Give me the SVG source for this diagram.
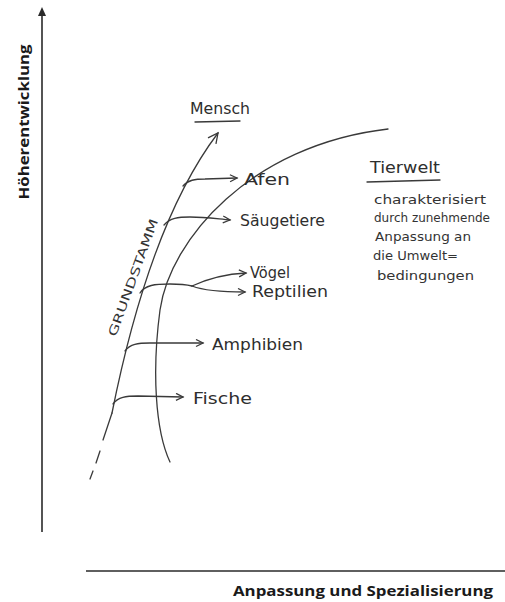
<svg xmlns="http://www.w3.org/2000/svg" width="505" height="602" viewBox="0 0 505 602">
<style>
.axis{stroke:#2a2a2a;stroke-width:1.6;fill:none}
.ax{font-family:"Open Sans","Liberation Sans",sans-serif;font-weight:bold;font-size:14px;fill:#1a1a1a}
.pen{stroke:#3a3a3a;stroke-width:1.3;fill:none;stroke-linecap:round}
.hw{font-family:"DejaVu Sans","Liberation Sans",sans-serif;font-size:15px;fill:#2e2e2e}
.sm{font-family:"DejaVu Sans","Liberation Sans",sans-serif;font-size:12px;fill:#333}
</style>
<defs>
<marker id="open" markerWidth="10" markerHeight="10" refX="8" refY="4" orient="auto" markerUnits="userSpaceOnUse">
<path d="M1,0.5 L8,4 L1,7.5" fill="none" stroke="#3a3a3a" stroke-width="1.3"/>
</marker>
<marker id="big" markerWidth="14" markerHeight="14" refX="11" refY="6" orient="auto" markerUnits="userSpaceOnUse">
<path d="M1,1 L11,6 L1,11" fill="none" stroke="#3a3a3a" stroke-width="1.3"/>
</marker>
</defs>
<g id="axes">
<line class="axis" x1="42" y1="532" x2="42" y2="9"/>
<path d="M38,16 L42,7 L46,16 Z" fill="#2a2a2a"/>
<line class="axis" x1="86" y1="571" x2="505" y2="571"/>
<text class="ax" transform="translate(29,122) rotate(-90)" text-anchor="middle" textLength="155" lengthAdjust="spacingAndGlyphs">Höherentwicklung</text>
<text class="ax" x="233" y="596" font-size="15" textLength="260" lengthAdjust="spacingAndGlyphs">Anpassung und Spezialisierung</text>
</g>
<g id="connectors">
<path id="grundstamm-line" class="pen" d="M112,413 C132,313 165,203 218,133" marker-end="url(#big)"/>
<path class="pen" d="M112,413 L103,440 M100,451 L96,463 M93,471 L90,479"/>
<path id="tierwelt-curve" class="pen" d="M170,462 C155,430 152,370 160,310 C170,240 250,145 388,129"/>
<path class="pen" d="M183,186 C188,180 195,179 205,179 L237,178" marker-end="url(#open)"/>
<path class="pen" d="M164,225 C170,218 178,217 190,217 C205,217 218,219 230,220" marker-end="url(#open)"/>
<path class="pen" d="M140,293 C145,285 155,284 170,284 C180,284 188,285 192,286"/>
<path class="pen" d="M192,286 C205,280 225,274 246,273" marker-end="url(#open)"/>
<path class="pen" d="M192,286 C205,291 225,292 245,292" marker-end="url(#open)"/>
<path class="pen" d="M125,351 C130,344 138,343 150,343 L203,343" marker-end="url(#open)"/>
<path class="pen" d="M113,404 C118,397 126,396 138,396 L183,397" marker-end="url(#open)"/>
</g>
<g id="mensch"><text class="hw" x="190" y="114" textLength="60" lengthAdjust="spacingAndGlyphs">Mensch</text><line class="pen" x1="195" y1="122" x2="240" y2="121"/></g>
<g id="afen"><text class="hw" x="244" y="185" textLength="46" lengthAdjust="spacingAndGlyphs">Afen</text></g>
<g id="saeugetiere"><text class="hw" x="240" y="226" textLength="85" lengthAdjust="spacingAndGlyphs">Säugetiere</text></g>
<g id="voegel"><text class="hw" x="250" y="278" font-size="14" textLength="40" lengthAdjust="spacingAndGlyphs">Vögel</text></g>
<g id="reptilien"><text class="hw" x="252" y="297" textLength="76" lengthAdjust="spacingAndGlyphs">Reptilien</text></g>
<g id="amphibien"><text class="hw" x="212" y="350" textLength="91" lengthAdjust="spacingAndGlyphs">Amphibien</text></g>
<g id="fische"><text class="hw" x="193" y="404" textLength="59" lengthAdjust="spacingAndGlyphs">Fische</text></g>
<g id="grundstamm"><text class="sm" transform="translate(137,279) rotate(-70)" text-anchor="middle" font-size="15" textLength="124" lengthAdjust="spacingAndGlyphs">GRUNDSTAMM</text></g>
<g id="tierwelt">
<text class="hw" x="370" y="173" font-size="18" textLength="70" lengthAdjust="spacingAndGlyphs">Tierwelt</text>
<line class="pen" x1="367" y1="182" x2="440" y2="180"/>
<text class="sm" x="374" y="204" textLength="112" lengthAdjust="spacingAndGlyphs">charakterisiert</text>
<text class="sm" x="374" y="222" textLength="116" lengthAdjust="spacingAndGlyphs">durch zunehmende</text>
<text class="sm" x="375" y="241" textLength="96" lengthAdjust="spacingAndGlyphs">Anpassung an</text>
<text class="sm" x="373" y="260" textLength="85" lengthAdjust="spacingAndGlyphs">die Umwelt=</text>
<text class="sm" x="377" y="280" textLength="97" lengthAdjust="spacingAndGlyphs">bedingungen</text>
</g>
</svg>
